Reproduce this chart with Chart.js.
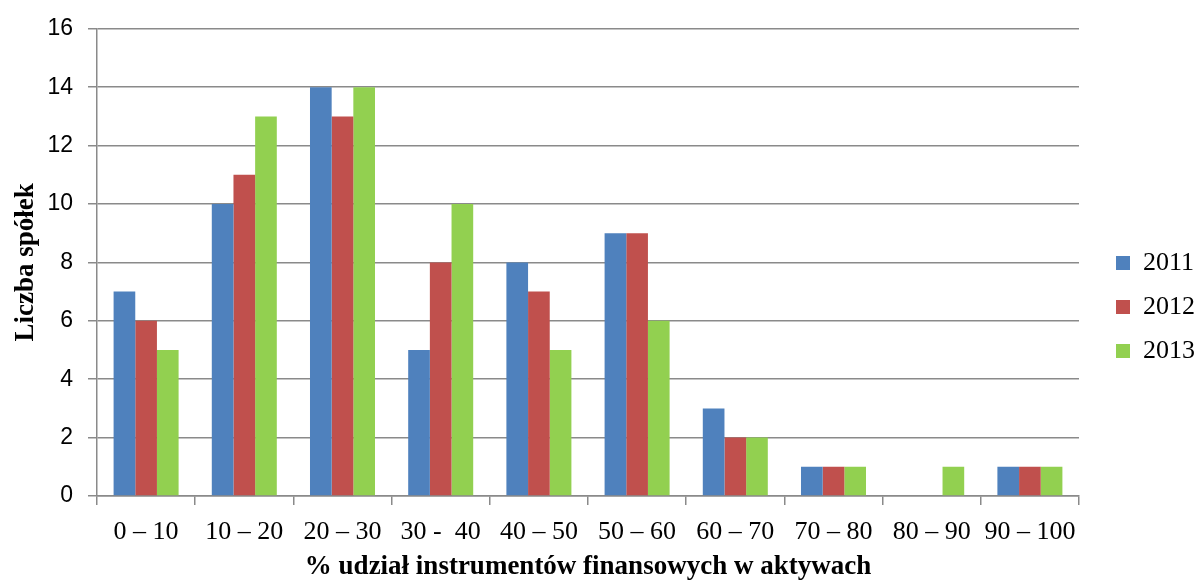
<!DOCTYPE html>
<html>
<head>
<meta charset="utf-8">
<script src="https://cdn.jsdelivr.net/npm/chart.js@4/dist/chart.umd.min.js"></script>
<style>
  html, body { margin: 0; padding: 0; background: #fff; }
  #wrap { width: 1197px; height: 581px; }
</style>
</head>
<body>
<div id="wrap"><canvas id="c" width="1197" height="581"></canvas></div>
<script>
// Share-of-financial-instruments buckets and company counts per year
const categories = ['0 – 10', '10 – 20', '20 – 30', '30 -  40', '40 – 50', '50 – 60', '60 – 70', '70 – 80', '80 – 90', '90 – 100'];
const years = ['2011', '2012', '2013'];
const values2011 = [7, 10, 14, 5, 8, 9, 3, 1, 0, 1];
const values2012 = [6, 11, 13, 8, 7, 9, 2, 1, 0, 1];
const values2013 = [5, 13, 14, 10, 5, 6, 2, 1, 1, 1];
const yTicks = [0, 2, 4, 6, 8, 10, 12, 14, 16];

const colors = ['#4F81BD', '#C0504D', '#92D050'];
const gridColor = '#8a8a8a';
const serif = "'Liberation Serif', 'Times New Roman', serif";
const sans = "'Liberation Sans', Arial, sans-serif";

// Places the legend block beside the plot, next to the middle gridlines
const legendPlacer = {
  id: 'legendPlacer',
  afterLayout(chart) {
    const lg = chart.legend;
    const w = lg.right - lg.left, h = lg.bottom - lg.top;
    lg.left = 1098; lg.right = lg.left + w;
    lg.top = 232; lg.bottom = lg.top + h;
  }
};

new Chart(document.getElementById('c'), {
  type: 'bar',
  data: {
    labels: categories,
    datasets: [
      { label: years[0], data: values2011, backgroundColor: colors[0] },
      { label: years[1], data: values2012, backgroundColor: colors[1] },
      { label: years[2], data: values2013, backgroundColor: colors[2] }
    ]
  },
  options: {
    responsive: false,
    animation: false,
    devicePixelRatio: 1,
    layout: { padding: { top: 23, right: 11, bottom: 0, left: 0 } },
    datasets: { bar: { categoryPercentage: 0.662, barPercentage: 1.0, borderWidth: 0 } },
    plugins: {
      tooltip: { enabled: false },
      legend: {
        position: 'right',
        align: 'start',
        labels: {
          boxWidth: 14,
          boxHeight: 14,
          padding: 18,
          color: '#000',
          font: { family: serif, size: 26 }
        }
      }
    },
    scales: {
      x: {
        grid: { offset: true, drawOnChartArea: false, drawTicks: true, tickLength: 9, color: gridColor, lineWidth: 1.5 },
        border: { color: gridColor, width: 1.5 },
        ticks: { color: '#000', font: { family: serif, size: 26 }, padding: 12, maxRotation: 0, autoSkip: false },
        title: {
          display: true,
          text: '% udział instrumentów finansowych w aktywach',
          color: '#000',
          font: { family: serif, size: 27, weight: 'bold' },
          padding: { top: 0, bottom: -2 }
        },
        afterFit(scale) { scale.height = 85; }
      },
      y: {
        min: 0,
        max: 16,
        afterBuildTicks(scale) { scale.ticks = yTicks.map(v => ({ value: v })); },
        grid: { color: gridColor, lineWidth: 1.5, tickLength: 9 },
        border: { color: gridColor, width: 1.5 },
        ticks: { color: '#000', font: { family: sans, size: 23 }, padding: 15 },
        title: {
          display: true,
          text: 'Liczba spółek',
          color: '#000',
          font: { family: serif, size: 27, weight: 'bold' },
          padding: { top: 10, bottom: 0 }
        },
        afterFit(scale) { scale.width = 97; }
      }
    }
  },
  plugins: [legendPlacer]
});
</script>
</body>
</html>
